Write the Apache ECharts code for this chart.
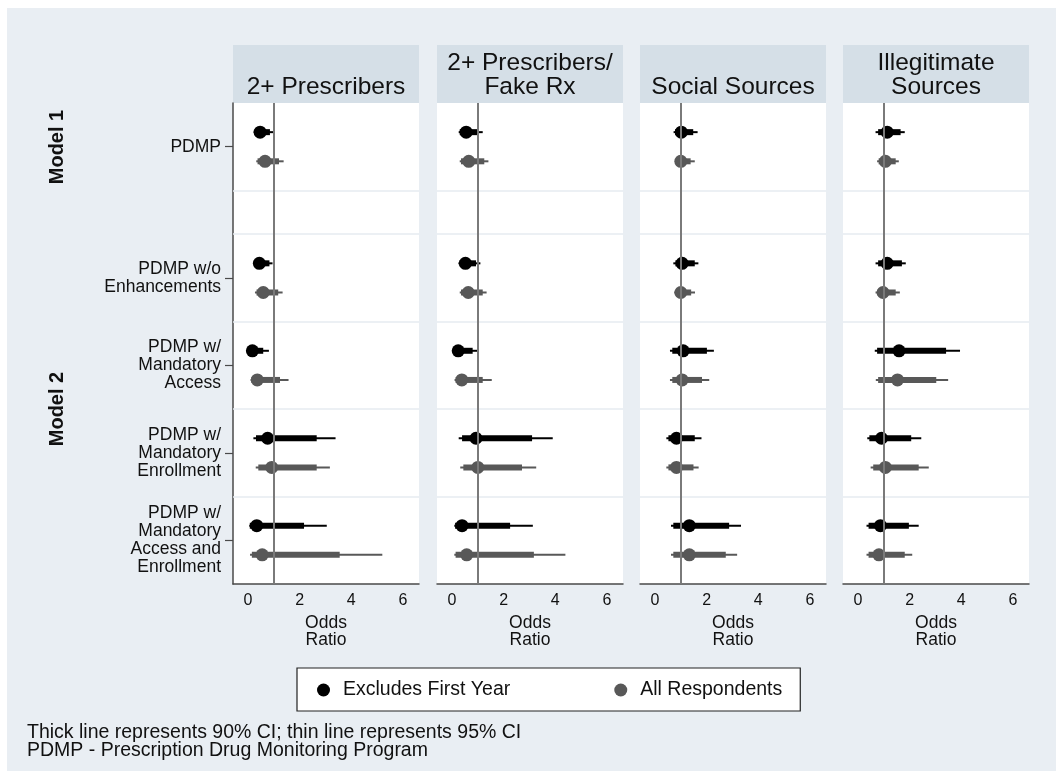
<!DOCTYPE html>
<html>
<head>
<meta charset="utf-8">
<script src="https://cdn.jsdelivr.net/npm/echarts@6/dist/echarts.min.js"></script>
<style>
html,body{margin:0;padding:0;background:#fff;}
#chart{width:1056px;height:771px;}
</style>
</head>
<body>
<div id="chart"></div>
<script>
// ---- data ----
const panelTitles = ['2+ Prescribers', '2+ Prescribers/\nFake Rx', 'Social Sources', 'Illegitimate\nSources'];
const rowLabels = ['PDMP', 'PDMP w/o\nEnhancements', 'PDMP w/\nMandatory\nAccess', 'PDMP w/\nMandatory\nEnrollment', 'PDMP w/\nMandatory\nAccess and\nEnrollment'];
const groupNames = ['Excludes First Year', 'All Respondents'];
const xTicks = [0, 2, 4, 6];

// Excludes First Year: one inner array per panel, rows in rowLabels order
const exclEst  = [[0.47,0.44,0.17,0.76,0.34],[0.55,0.52,0.24,0.93,0.39],[1.02,1.05,1.09,0.83,1.33],[1.13,1.13,1.59,0.91,0.87]];
const exclLo95 = [[0.22,0.20,0.04,0.21,0.05],[0.26,0.25,0.06,0.26,0.09],[0.72,0.71,0.58,0.44,0.62],[0.68,0.68,0.65,0.36,0.33]];
const exclLo90 = [[0.26,0.24,0.05,0.31,0.07],[0.30,0.29,0.08,0.39,0.12],[0.78,0.79,0.67,0.52,0.71],[0.78,0.78,0.74,0.44,0.41]];
const exclHi90 = [[0.85,0.83,0.59,2.66,2.17],[1.00,0.93,0.80,3.10,2.25],[1.48,1.54,2.01,1.54,2.87],[1.65,1.70,3.41,2.06,1.97]];
const exclHi95 = [[1.00,0.95,0.81,3.39,3.05],[1.19,1.10,1.03,3.90,3.13],[1.65,1.68,2.28,1.80,3.33],[1.81,1.85,3.95,2.45,2.35]];

// All Respondents
const allEst  = [[0.66,0.59,0.36,0.92,0.55],[0.65,0.63,0.38,1.00,0.57],[1.00,1.00,1.05,0.83,1.33],[1.06,0.97,1.53,1.06,0.81]];
const allLo95 = [[0.32,0.27,0.10,0.30,0.08],[0.30,0.30,0.10,0.32,0.09],[0.78,0.75,0.58,0.44,0.62],[0.74,0.68,0.69,0.49,0.33]];
const allLo90 = [[0.37,0.33,0.13,0.40,0.15],[0.35,0.35,0.14,0.44,0.14],[0.85,0.83,0.67,0.52,0.71],[0.80,0.76,0.78,0.59,0.41]];
const allHi90 = [[1.20,1.17,1.24,2.66,3.55],[1.25,1.19,1.19,2.71,3.17],[1.38,1.40,1.82,1.49,2.74],[1.46,1.46,3.03,2.35,1.81]];
const allHi95 = [[1.38,1.34,1.57,3.17,5.20],[1.41,1.34,1.54,3.26,4.39],[1.54,1.55,2.10,1.69,3.18],[1.58,1.62,3.49,2.74,2.10]];

// ---- layout ----
const FONT = '"Liberation Sans", Arial, sans-serif';
const panelLeft = [233, 437, 640, 843];
const panelW = 186;
const plotTop = 103, plotH = 481;
const headerTop = 45;
const colors = ['#000000', '#585858'];

// row position on the y axis (units; model 1 row, gap, then model 2 rows)
function rowCenter(r) { return r === 0 ? 1.5 : 4.5 + (r - 1) * 3 + 1.5; }
const rowCenters = rowLabels.map((_, r) => rowCenter(r));
const sepLines = [3, 4.5, 7.5, 10.5, 13.5];

function renderCI(params, api) {
  const y = api.value(5);
  const c = api.coord([api.value(0), y]);
  const a90 = api.coord([api.value(1), y]);
  const b90 = api.coord([api.value(2), y]);
  const a95 = api.coord([api.value(3), y]);
  const b95 = api.coord([api.value(4), y]);
  const col = api.visual('color');
  return {
    type: 'group',
    children: [
      { type: 'line', shape: { x1: a95[0], y1: c[1], x2: b95[0], y2: c[1] }, style: { stroke: col, lineWidth: 2 } },
      { type: 'line', shape: { x1: a90[0], y1: c[1], x2: b90[0], y2: c[1] }, style: { stroke: col, lineWidth: 6 } },
      { type: 'circle', shape: { cx: c[0], cy: c[1], r: 6.5 }, style: { fill: col } }
    ]
  };
}

const groups = [
  { est: exclEst, lo90: exclLo90, hi90: exclHi90, lo95: exclLo95, hi95: exclHi95, off: -0.5 },
  { est: allEst, lo90: allLo90, hi90: allHi90, lo95: allLo95, hi95: allHi95, off: 0.5 }
];

const grid = [], xAxis = [], yAxis = [], series = [], graphic = [];

graphic.push({ type: 'rect', shape: { x: 0, y: 0, width: 1056, height: 8 }, style: { fill: '#ffffff' }, z: -1 });
graphic.push({ type: 'rect', shape: { x: 0, y: 0, width: 7, height: 771 }, style: { fill: '#ffffff' }, z: -1 });

panelTitles.forEach((title, p) => {
  grid.push({ left: panelLeft[p], top: plotTop, width: panelW, height: plotH, show: true, backgroundColor: '#ffffff', borderWidth: 0 });
  xAxis.push({
    type: 'value', gridIndex: p, min: -0.58, max: 6.62,
    axisLine: { show: true, onZero: false, lineStyle: { color: '#4a4a4a', width: 1.5 } },
    axisTick: { show: false },
    splitLine: { show: false },
    axisLabel: { customValues: xTicks, color: '#111', fontSize: 16, fontFamily: FONT, margin: 9 },
    name: 'Odds\nRatio', nameLocation: 'middle', nameGap: 22,
    nameTextStyle: { color: '#111', fontSize: 17.5, fontFamily: FONT, lineHeight: 17 }
  });
  yAxis.push({
    type: 'value', gridIndex: p, min: 0, max: 16.5, inverse: true,
    axisLine: { show: p === 0, onZero: false, lineStyle: { color: '#4a4a4a', width: 1.5 } },
    axisTick: { show: p === 0, customValues: rowCenters, length: 8, lineStyle: { color: '#4a4a4a', width: 1.2 } },
    splitLine: { show: false },
    axisLabel: {
      show: p === 0, customValues: rowCenters, margin: 12,
      color: '#111', fontSize: 17.5, fontFamily: FONT, lineHeight: 18, align: 'right',
      formatter: v => { const i = rowCenters.findIndex(c => Math.abs(c - v) < 1e-6); return i >= 0 ? rowLabels[i] : ''; }
    }
  });
  // reference lines (separators and OR = 1)
  series.push({
    type: 'line', xAxisIndex: p, yAxisIndex: p, data: [], silent: true, z: 1,
    markLine: {
      silent: true, symbol: ['none', 'none'], label: { show: false }, animation: false,
      data: sepLines.map(v => ({ yAxis: v, lineStyle: { color: '#e6ebf0', width: 1.5, type: 'solid' } }))
        .concat([{ xAxis: 1, lineStyle: { color: '#7a7a7a', width: 2, type: 'solid' } }])
    }
  });
  groups.forEach((g, k) => {
    const data = rowLabels.map((_, r) => [g.est[p][r], g.lo90[p][r], g.hi90[p][r], g.lo95[p][r], g.hi95[p][r], rowCenters[r] + g.off]);
    series.push({
      type: 'custom', name: groupNames[k], xAxisIndex: p, yAxisIndex: p, z: 3,
      itemStyle: { color: colors[k] },
      renderItem: renderCI, data: data,
      encode: { x: [0, 1, 2, 3, 4], y: 5 }
    });
  });
  // header
  graphic.push({ type: 'rect', shape: { x: panelLeft[p], y: headerTop, width: panelW, height: plotTop - headerTop }, style: { fill: '#d5dfe7' }, z: 0 });
  graphic.push({
    type: 'text', x: panelLeft[p] + panelW / 2, y: 99, z: 1,
    style: { text: title, fill: '#111', font: '24.5px ' + FONT, align: 'center', verticalAlign: 'bottom', lineHeight: 24 }
  });
});

// model labels
graphic.push({ type: 'text', x: 57, y: 147, rotation: Math.PI / 2, z: 1,
  style: { text: 'Model 1', fill: '#111', font: 'bold 20px ' + FONT, align: 'center', verticalAlign: 'middle' } });
graphic.push({ type: 'text', x: 57, y: 409, rotation: Math.PI / 2, z: 1,
  style: { text: 'Model 2', fill: '#111', font: 'bold 20px ' + FONT, align: 'center', verticalAlign: 'middle' } });

// footnotes
graphic.push({ type: 'text', x: 27, y: 733, z: 1,
  style: { text: 'Thick line represents 90% CI; thin line represents 95% CI', fill: '#111', font: '19.5px ' + FONT, verticalAlign: 'middle' } });
graphic.push({ type: 'text', x: 27, y: 751, z: 1,
  style: { text: 'PDMP - Prescription Drug Monitoring Program', fill: '#111', font: '19.5px ' + FONT, verticalAlign: 'middle' } });

const chart = echarts.init(document.getElementById('chart'), null, { renderer: 'canvas' });
chart.setOption({
  backgroundColor: '#e9eef3',
  animation: false,
  grid, xAxis, yAxis, series, graphic,
  legend: {
    data: groupNames, left: 297, top: 668,
    icon: 'circle', itemWidth: 13, itemHeight: 13, itemGap: 104,
    backgroundColor: '#ffffff', borderColor: '#222', borderWidth: 1.2,
    padding: [12, 18, 11, 20],
    textStyle: { color: '#111', fontSize: 19.5, fontFamily: FONT, padding: [0, 0, 0, 8] },
    selectedMode: false
  }
});
</script>
</body>
</html>
